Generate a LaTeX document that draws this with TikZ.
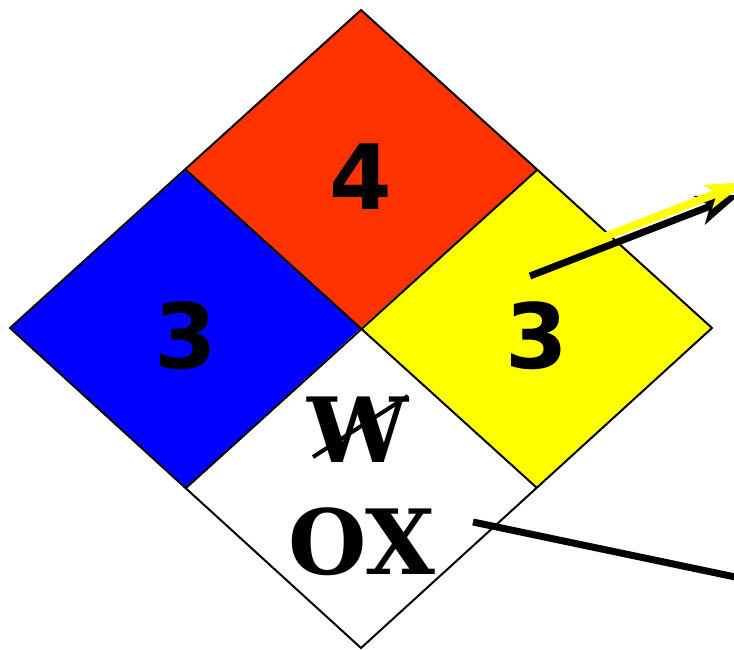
\documentclass[tikz,border=0pt]{standalone}
\usepackage{fontspec}
\newfontfamily\digitfont{DejaVu Sans}
\newfontfamily\slabfont{DejaVu Serif}
\usetikzlibrary{arrows.meta}
\definecolor{fireRed}{HTML}{FF3300}
\definecolor{healthBlue}{HTML}{0000FF}
\definecolor{reactYellow}{HTML}{FFFF00}

\begin{document}
\begin{tikzpicture}[x=1pt, y=-1pt,
  quad/.style={draw=black, line width=2pt, line join=miter},
  numtxt/.style={inner sep=0pt, font=\digitfont\bfseries\fontsize{90}{90}\selectfont},
  codetxt/.style={inner sep=0pt, font=\slabfont\bfseries\fontsize{90}{90}\selectfont},
  yarr/.style={-{Stealth[length=40pt, width=24pt, inset=9pt]}, line width=8pt, reactYellow},
  barr/.style={-{Stealth[length=42pt, width=30pt, inset=11pt]}, line width=7pt},
  lead/.style={line width=7pt}
]
  \useasboundingbox (0,0) rectangle (734,650);

  % corners of the diamond
  \coordinate (top)    at (361, 10);
  \coordinate (left)   at ( 10,328);
  \coordinate (right)  at (712,328);
  \coordinate (bottom) at (361,648);
  \coordinate (mid)    at (361,328);
  \coordinate (ul)     at (186,170);
  \coordinate (ur)     at (537,170);
  \coordinate (ll)     at (186,488);
  \coordinate (lr)     at (537,488);

  \fill[fireRed]     (top) -- (ur) -- (mid) -- (ul) -- cycle;
  \fill[healthBlue]  (ul) -- (mid) -- (ll) -- (left) -- cycle;
  \fill[reactYellow] (ur) -- (right) -- (lr) -- (mid) -- cycle;
  \fill[white]       (mid) -- (lr) -- (bottom) -- (ll) -- cycle;

  \draw[quad] (top) -- (right) -- (bottom) -- (left) -- cycle;
  \draw[quad] (ul) -- (lr);
  \draw[quad] (ur) -- (ll);

  \node[numtxt]  (flam)   at (361,177) {4};
  \node[numtxt]  (health) at (186,336) {3};
  \node[numtxt]  (react)  at (537,336) {3};
  \node[codetxt] (water)  at (358,430) {W};
  \node[codetxt] (oxid)   at (362,542) {OX};

  % strike through W
  \coordinate (strikeA) at (313,457);
  \coordinate (strikeB) at (408,396);
  \draw[line width=4pt] (strikeA) -- (strikeB);

  % pointers: black shadow, yellow on top
  \coordinate (blkStart) at (530,276);
  \coordinate (blkEnd)   at (739,195);
  \coordinate (yelStart) at (527,267);
  \coordinate (yelEnd)   at (746,182);
  \draw[barr] (blkStart) -- (blkEnd);
  \draw[yarr] (yelStart) -- (yelEnd);

  \coordinate (oxStart) at (473,522);
  \coordinate (oxEnd)   at (740,578);
  \draw[lead] (oxStart) -- (oxEnd);
\end{tikzpicture}
\end{document}
